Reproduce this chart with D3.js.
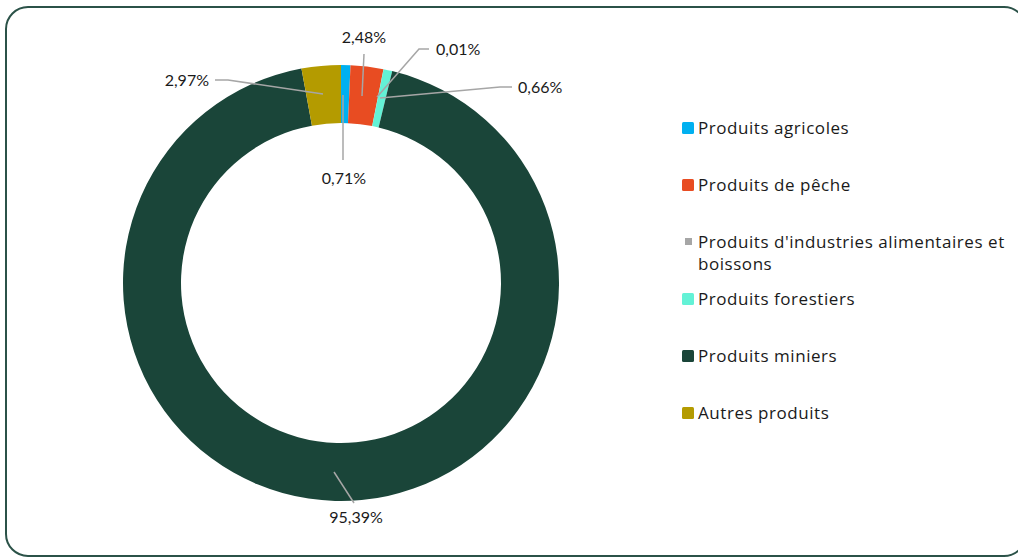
<!DOCTYPE html>
<html><head><meta charset="utf-8">
<script src="https://cdn.jsdelivr.net/npm/d3@7"></script>
<style>body{margin:0;background:#fff;} svg{display:block;font-family:Lato, "Noto Sans", sans-serif;}</style>
</head><body>
<svg id="c" width="1018" height="559"></svg>
<script>
const categories = ["Produits agricoles","Produits de pêche","Produits d'industries alimentaires et boissons","Produits forestiers","Produits miniers","Autres produits"];
const values = [0.71, 2.48, 0.01, 0.66, 95.39, 2.97];
const labels = ["0,71%","2,48%","0,01%","0,66%","95,39%","2,97%"];
const colors = ["#00b0f0","#e84c22","#a6a6a6","#63f2d6","#1a4539","#b49b00"];

const svg = d3.select("#c");
svg.append("rect").attr("x",6).attr("y",7).attr("width",1020).attr("height",549)
  .attr("rx",22).attr("fill","#fff").attr("stroke","#2b5248").attr("stroke-width",2);

const cx = 341, cy = 283, R = 218, r = 160;
const g = svg.append("g").attr("transform",`translate(${cx},${cy})`);
const pie = d3.pie().sort(null).value(d=>d)(values);
const arc = d3.arc().innerRadius(r).outerRadius(R);
g.selectAll("path.s").data(pie).join("path").attr("class","s")
  .attr("d",arc).attr("fill",(d,i)=>colors[i]);

const leaders = [
  {i:0, pts:[[343,95],[343,160]], tx:344, ty:184, anchor:"middle"},
  {i:1, pts:[[362,96],[364,54]], tx:364, ty:43, anchor:"middle"},
  {i:2, pts:[[377,97],[419,49],[429,49]], tx:436, ty:55, anchor:"start"},
  {i:3, pts:[[380,98],[500,87],[512,87]], tx:518, ty:93, anchor:"start"},
  {i:4, pts:[[334,472],[354,503]], tx:356, ty:523, anchor:"middle"},
  {i:5, pts:[[323,94],[228,80],[215,80]], tx:209, ty:86, anchor:"end"}
];
const lab = svg.append("g");
leaders.forEach(l=>{
  lab.append("polyline").attr("points",l.pts.map(p=>p.join(",")).join(" "))
    .attr("fill","none").attr("stroke","#a6a6a6").attr("stroke-width",1.5);
  lab.append("text").attr("x",l.tx).attr("y",l.ty).attr("text-anchor",l.anchor)
    .attr("font-size",16).attr("fill","#1a1a1a").text(labels[l.i]);
});

// legend
const legY = [128,185,242,299,356,413];
const leg = svg.append("g").attr("font-family","'Open Sans', sans-serif").attr("letter-spacing","0.55px");
categories.forEach((c,i)=>{
  const y = legY[i];
  if(i===2){
    leg.append("rect").attr("x",685).attr("y",y-4).attr("width",7).attr("height",7).attr("fill",colors[i]);
  } else {
    leg.append("rect").attr("x",682).attr("y",y-6).attr("width",12).attr("height",12).attr("rx",1.5).attr("fill",colors[i]);
  }
  if(i===2){
    const t = leg.append("text").attr("x",698).attr("y",y+6).attr("font-size",17).attr("fill","#1a1a1a");
    t.append("tspan").attr("x",698).text("Produits d'industries alimentaires et");
    t.append("tspan").attr("x",698).attr("dy",22).text("boissons");
  } else {
    leg.append("text").attr("x",698).attr("y",y+6).attr("font-size",17).attr("fill","#1a1a1a").text(c);
  }
});
</script>
</body></html>
